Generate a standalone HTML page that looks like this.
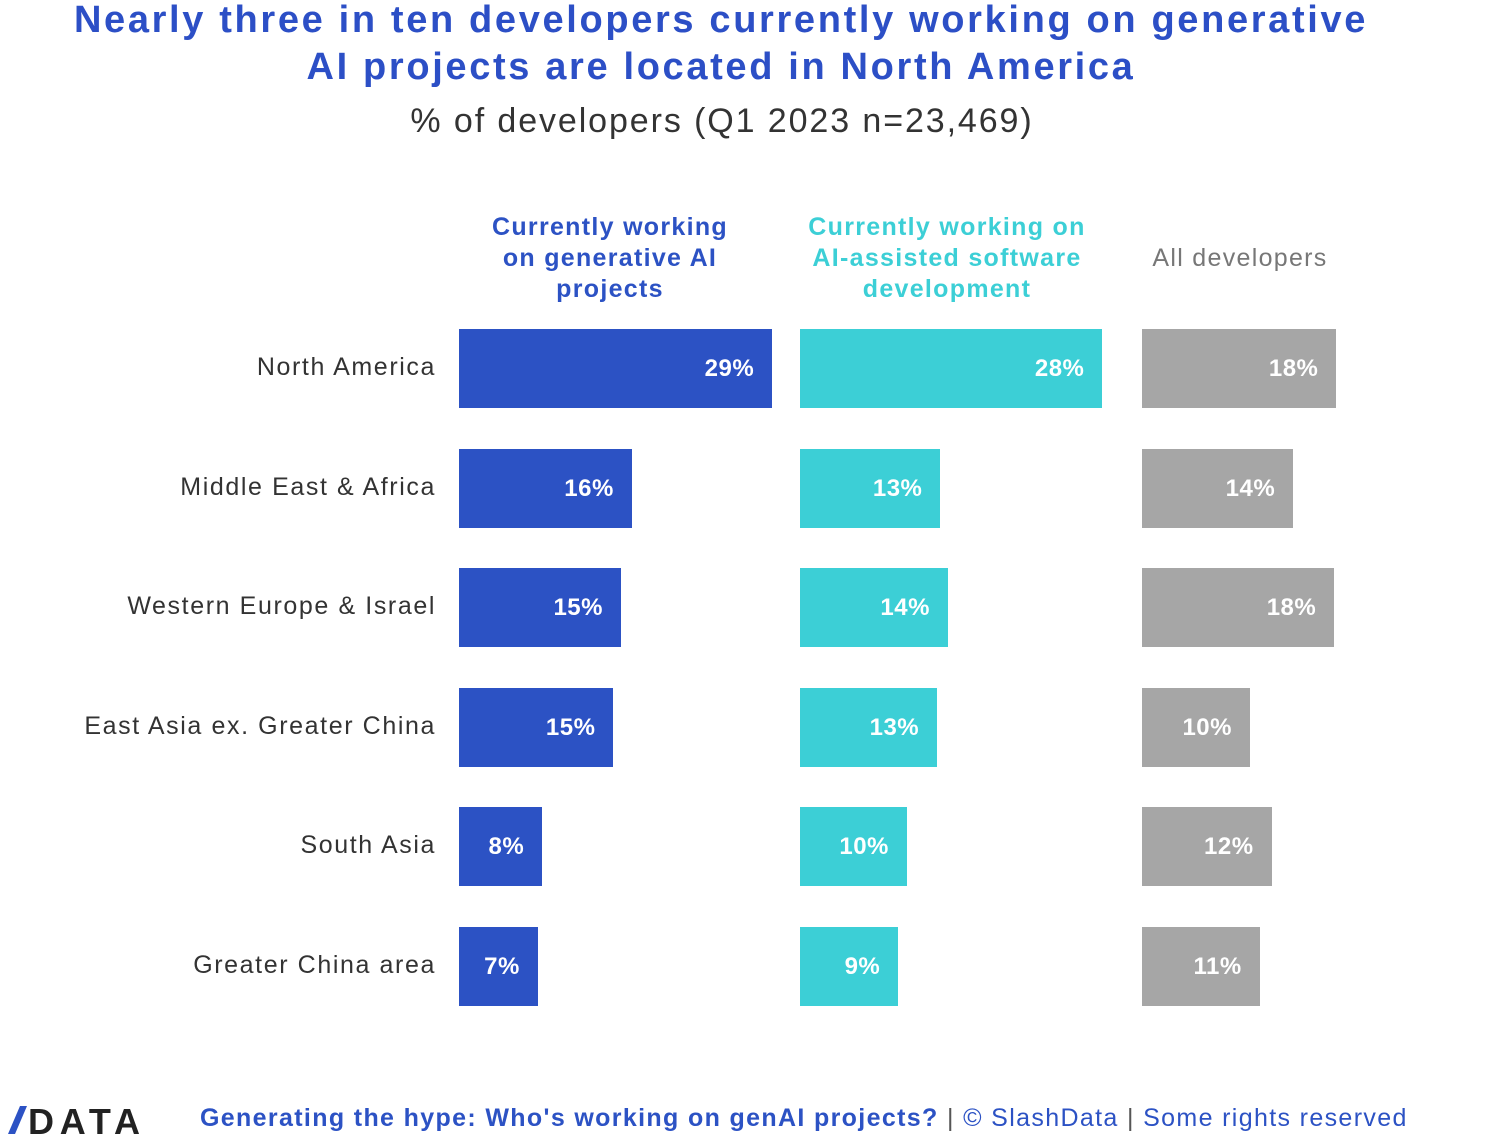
<!DOCTYPE html>
<html><head><meta charset="utf-8"><style>
body{margin:0;width:1490px;height:1140px;background:#fff;font-family:"Liberation Sans",sans-serif;position:relative;overflow:hidden}
.abs{position:absolute}
.title{left:0;width:1442px;text-align:center;color:#2c4fc6;font-weight:bold;font-size:38px;line-height:47px;top:-3px;letter-spacing:2.65px;white-space:nowrap}
.sub{left:0;width:1444px;text-align:center;color:#333;font-size:34px;top:102px;letter-spacing:1.9px}
.hdr{text-align:center;font-weight:bold;font-size:25px;line-height:31px;letter-spacing:1.3px}
.cat{right:1054px;font-size:25px;color:#333;text-align:right;white-space:nowrap;letter-spacing:1.6px}
.bar{height:79px}
.val{position:absolute;right:18px;top:0;line-height:79px;color:#fff;font-weight:bold;font-size:24px;letter-spacing:0.5px}
</style></head><body>
<div class="abs title">Nearly three in ten developers currently working on generative<br>AI projects are located in North America</div>
<div class="abs sub">% of developers (Q1 2023 n=23,469)</div>
<div class="abs hdr" style="left:460px;width:300px;top:212px;color:#2c52c4">Currently working<br>on generative AI<br>projects</div>
<div class="abs hdr" style="left:797px;width:300px;top:212px;color:#3ccfd6">Currently working on<br>AI-assisted software<br>development</div>
<div class="abs hdr" style="left:1130px;width:220px;top:243px;color:#777;font-weight:normal">All developers</div>
<div id="chart"></div>
<svg class="abs" style="left:8px;top:1103px" width="135" height="34">
<polygon points="0,31 7,31 19,3 12,3" fill="#2c52c4"/>
<text x="20" y="31" font-family="Liberation Sans" font-weight="bold" font-size="36" fill="#222" textLength="112">DATA</text>
</svg>
<div class="abs" style="left:200px;top:1104px;font-size:25px;color:#2c52c4;white-space:nowrap;letter-spacing:1.35px"><b>Generating the hype: Who's working on genAI projects?</b> <span style="color:#555">|</span> © SlashData <span style="color:#555">|</span> Some rights reserved</div>
<script>
const categories=["North America","Middle East & Africa","Western Europe & Israel","East Asia ex. Greater China","South Asia","Greater China area"];
const genai=[29,16,15,14.3,7.7,7.3];
const assisted=[28,13,13.7,12.7,9.9,9.1];
const allDevs=[18,14,17.8,10,12,10.9];
const labelsGenai=["29%","16%","15%","15%","8%","7%"];
const labelsAssisted=["28%","13%","14%","13%","10%","9%"];
const labelsAll=["18%","14%","18%","10%","12%","11%"];
const scale=10.8, top0=329, pitch=119.6;
const yPos=i=>top0+i*pitch;
const xLen=v=>v*scale;
const chart=document.getElementById('chart');
const series=[[genai,labelsGenai,459,'#2c52c4','genai'],[assisted,labelsAssisted,800,'#3ccfd6','ai-assisted'],[allDevs,labelsAll,1142,'#a6a6a6','all-developers']];
categories.forEach((c,i)=>{
  const l=document.createElement('div');
  l.className='abs cat';
  l.style.top=(yPos(i)+24)+'px';
  l.textContent=c;
  
  
  chart.appendChild(l);
  series.forEach(s=>{
    const b=document.createElement('div');
    b.className='abs bar';
    b.style.left=s[2]+'px';
    b.style.top=yPos(i)+'px';
    b.style.width=xLen(s[0][i])+'px';
    b.style.background=s[3];
    
    
    const v=document.createElement('span');
    v.className='val';
    v.textContent=s[1][i];
    
    
    b.appendChild(v);
    chart.appendChild(b);
  });
});
</script>
</body></html>
